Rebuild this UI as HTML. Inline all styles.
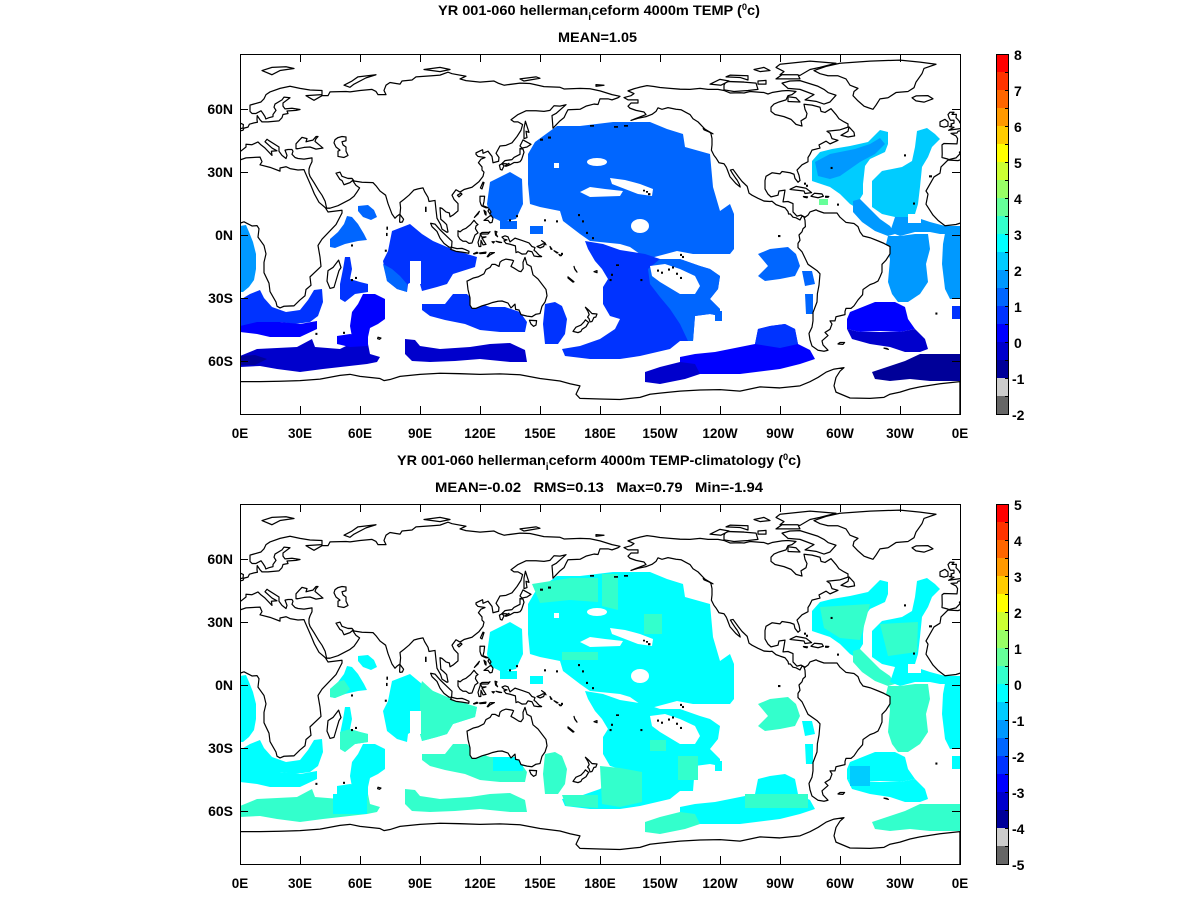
<!DOCTYPE html>
<html><head><meta charset="utf-8"><style>
html,body{margin:0;padding:0;background:#fff;}
svg{display:block;}
text{font-family:"Liberation Sans",Arial,sans-serif;font-weight:bold;fill:#000;}
</style></head><body>
<svg xmlns="http://www.w3.org/2000/svg" width="1200" height="900" viewBox="0 0 1200 900">
<defs>
<clipPath id="ct"><rect x="240" y="54" width="720" height="360"/></clipPath>
<clipPath id="cb"><rect x="240" y="504" width="720" height="360"/></clipPath>

<polygon id="r_ang_l" points="0,172 6,171 9,178 13,188 16,200 16,215 14,226 9,233 3,238 0,238"/>
<polygon id="r_ang_r" points="720,172 706,174 703,190 702,210 705,235 710,245 720,245"/>
<polygon id="r_swind" points="0,246 10,240 20,236 24,244 32,253 46,258 60,256 68,246 74,236 82,235 83,248 78,262 70,268 55,270 40,268 28,271 12,272 0,272"/>
<polygon id="r_band1" points="0,272 17,268 40,268 60,270 77,267 77,275 60,283 30,283 17,280 0,278"/>
<polygon id="r_ant1" points="0,302 17,295 57,293 72,285 75,293 100,295 110,290 128,290 130,300 140,303 137,308 127,310 83,315 60,318 37,315 20,312 0,313"/>
<polygon id="r_ant1d" points="0,302 15,301 27,305 15,311 0,311"/>
<polygon id="r_arab" points="118,152 128,151 134,156 137,163 131,166 123,163 118,157"/>
<polygon id="r_somali" points="107,162 112,163 118,170 124,180 127,186 118,187 105,190 95,194 90,193 90,185 98,178 104,170"/>
<polygon id="r_masc" points="105,203 110,203 112,215 110,225 120,228 128,230 128,238 115,240 105,248 100,245 100,230 103,215"/>
<polygon id="r_cind" points="152,177 170,170 182,180 193,187 207,193 227,200 237,203 235,213 213,220 207,230 197,233 182,237 180,230 173,227 168,230 167,238 157,235 147,227 143,207 148,197"/>
<polygon id="r_cind_w" points="143,210 152,215 160,222 167,230 167,238 157,235 147,227"/>
<polygon id="r_saus" points="182,250 205,250 213,240 227,240 235,248 250,253 265,253 280,258 287,268 285,278 260,278 240,276 225,270 205,266 190,262 182,256"/>
<polygon id="r_crozet" points="123,240 135,240 145,245 145,265 138,270 130,274 128,283 112,283 110,272 112,258 118,250"/>
<polygon id="r_crozet2" points="97,282 110,280 128,283 128,292 110,293 97,290"/>
<polygon id="r_ausant" points="165,285 175,286 180,292 200,295 230,293 250,290 270,289 285,296 287,308 270,308 240,305 215,307 190,308 172,307 165,300"/>
<polygon id="r_phil" points="250,128 270,118 282,125 283,150 276,165 262,168 250,162 247,150"/>
<polygon id="r_npac" points="288,100 295,88 317,72 340,72 373,68 410,68 427,75 443,80 445,93 470,100 473,133 480,157 490,150 494,160 494,195 490,200 453,200 437,197 407,205 390,193 380,190 350,187 340,180 323,167 320,157 300,153 290,150 288,130"/>
<polygon id="r_nps1" points="260,167 277,167 277,175 260,175"/>
<polygon id="r_nps2" points="290,172 303,172 303,180 290,180"/>
<polygon id="r_spac" points="345,187 363,190 380,196 405,200 420,205 440,205 460,212 470,215 480,222 478,235 470,245 480,255 480,262 470,260 455,262 453,287 440,287 430,295 400,302 380,305 350,305 325,302 322,295 340,292 360,285 375,275 380,265 370,262 363,250 363,233 368,225 362,215 355,207 348,195"/>
<polygon id="r_spac_e" points="420,205 440,205 460,212 470,215 480,222 478,235 470,245 480,255 480,262 470,260 455,262 453,287 448,287 440,270 430,255 420,243 410,230 408,215"/>
<polygon id="r_tasman" points="305,250 315,248 322,252 327,265 325,280 318,290 305,290 303,270"/>
<polygon id="r_pant" points="440,303 455,300 475,298 490,295 500,293 515,290 518,275 530,272 545,270 555,275 558,290 570,296 575,305 560,310 540,315 500,320 470,320 450,320 440,315"/>
<polygon id="r_pant_b" points="515,290 518,275 530,272 545,270 555,275 558,290 540,294"/>
<polygon id="r_pant_d" points="405,318 420,313 440,308 455,310 460,320 445,325 420,330 405,328"/>
<polygon id="r_peru" points="518,200 530,195 548,193 556,200 560,212 555,222 540,225 525,227 518,222 528,212"/>
<polygon id="r_peru2" points="562,217 572,217 575,230 565,232"/>
<polygon id="r_peru3" points="565,240 573,240 573,260 566,260"/>
<polygon id="r_ep1" points="475,257 482,257 482,267 475,267"/>
<polygon id="r_natl_w" points="572,107 580,98 592,95 610,92 628,88 636,80 640,76 648,78 648,90 645,98 630,105 625,112 623,130 623,140 615,153 610,150 600,140 590,133 572,127"/>
<polygon id="r_natl_wi" points="575,108 590,100 615,95 630,90 640,84 645,90 635,100 620,108 610,115 600,122 590,125 578,122"/>
<polygon id="r_natl_e" points="677,77 687,74 695,80 700,85 692,93 688,103 682,113 680,133 678,150 675,160 665,165 655,163 642,160 632,153 632,127 642,117 662,113 672,107 675,93"/>
<polygon id="r_sa1" points="613,147 620,145 630,155 640,165 650,172 655,180 648,182 635,177 622,168 613,158"/>
<polygon id="r_samid" points="655,163 675,163 690,168 705,172 720,172 720,180 700,180 690,178 675,178 660,182 650,178"/>
<polygon id="r_brazil" points="648,182 660,182 675,180 688,180 690,195 686,210 688,228 680,240 668,248 658,248 652,240 648,228 650,205 646,190"/>
<polygon id="r_se1" points="712,252 720,252 720,265 712,265"/>
<polygon id="r_arg" points="610,258 625,252 635,248 655,248 665,253 668,265 675,275 660,278 640,277 620,278 607,275 607,265"/>
<polygon id="r_arg_d" points="607,275 620,278 660,278 675,275 685,285 688,295 680,298 665,298 650,293 630,290 612,285"/>
<polygon id="r_wed" points="632,318 650,312 665,307 680,300 700,300 720,300 720,327 690,327 670,325 650,327 635,325"/>
<g id="holes" fill="#fff">
<rect x="170" y="207" width="11" height="23"/>
<ellipse cx="357" cy="108" rx="10" ry="4"/>
<polygon points="370,124 385,126 400,130 413,135 412,142 398,140 385,135 372,130"/>
<polygon points="340,138 350,133 365,135 383,137 380,142 350,143"/>
<ellipse cx="400" cy="172" rx="9" ry="7"/>
<rect x="314" y="109" width="5" height="5"/>
<polygon points="410,212 425,210 440,215 455,222 460,232 455,240 440,240 430,234 420,228 412,222"/>
<rect x="668" y="160" width="13" height="9"/>
</g>

<g id="land" fill="#fff" stroke="#000" stroke-width="0.6" stroke-linejoin="round">
<polygon points="-6,-35.8 -1,-35.5 3,-36.8 10,-37.2 11,-35 10,-33.5 15,-32.3 20,-30.5 20,-32 23,-32.6 25,-31.7 29,-31 32,-31.2 32.5,-30 33.8,-27.2 35.5,-23.5 37.2,-19.6 39.5,-15.6 42.7,-13 44,-11 51,-11.8 51,-10.5 48,-5 45,-2 41,2 39,5 40,10.5 40.5,15 35,20 35.5,24 33,26 32.5,29 30,31 27,33.8 22,34 20,34.8 18.5,34 18,32 15,27 14.5,23 12,18 12,13 13,9 12,5 9,1 9.5,-3 8.5,-4.5 6,-4.3 2,-6.3 -2,-5 -7.5,-4.4 -11,-7 -13.5,-9.5 -17,-14.7 -16,-19.5 -17,-21 -13,-27.7 -10,-29.5 -9.5,-32.5 -6,-35.8"/>
<polygon points="49.3,12 50.5,15.5 49.5,17 47,25 45,25.5 43.5,22 44,17 46.5,15.5"/>
<polygon points="-9,-43 -8.9,-38.7 -9,-37 -6,-36.2 -5.6,-36 -2,-36.8 0,-38.8 -0.3,-39.5 3,-42 3,-43.3 6,-43.1 9,-44.4 10.5,-43 12.5,-41.5 16,-38 15.7,-40 18.5,-40.2 16,-41.5 12.5,-44.5 13.5,-45.7 14.5,-45 19.5,-42 19.5,-40 21,-38 23,-36.5 23.5,-38 22.5,-40.5 24,-40.8 26,-40.8 26.5,-40 26,-38.5 27.5,-37 29,-36.5 32,-36.2 36,-36.8 36,-35 35,-33 34.5,-31.5 34.5,-29.5 35,-28 37,-25 39.2,-21.5 41,-19 42.6,-16 43.3,-12.8 45,-12.8 49,-14 52,-15.5 55,-17 57,-18.5 58.5,-20.5 59.8,-22.5 58,-23.7 56.3,-26 55,-25 52,-24 51,-26 50,-26.5 48,-29.5 50,-30 51,-28 54,-27 56,-27 57,-25.8 61,-25.2 66.5,-25 68,-23.5 70,-21 72.8,-19 74,-15 76,-10 77.5,-8 78.5,-9 80,-10 80.3,-13 80,-15.5 82,-17 84.5,-19 87,-21.5 89,-22 91.5,-22.5 92.3,-20.7 94,-18 94.5,-16 97.5,-16.5 98,-12 98.5,-8 100.3,-5 101,-2.8 103.5,-1.3 104,-1.5 103.3,-5 102,-6.2 100.4,-7.5 100,-13 101,-12.7 103,-11 104.7,-10.5 105,-8.7 106.5,-9.5 109,-11.5 109,-15 107,-17 106,-19 108,-21.6 110,-20.5 112,-21.7 116,-22.8 119.5,-25.5 121.5,-28 122,-30 121,-31 121,-32.5 119.2,-34.5 120.5,-36.2 122.5,-37 119,-37.5 118,-38.5 118,-39.2 121.3,-40.7 121.5,-39 124,-40 126,-37.5 126.5,-34.5 129.3,-35.2 129.5,-37 128,-39 130,-42.5 133,-42.8 136,-44 138.5,-47 140.5,-50 141.3,-52.7 139,-54 137,-54 135.5,-55 139,-57.5 143,-59.3 148,-59.3 152,-59 155,-59.5 157,-61.7 160,-61.5 163,-62.2 158,-58 156,-57 156.5,-51 158.5,-53 160,-54.5 162,-56 163,-58 164,-59.8 170,-60 173,-61.5 177,-62.5 179,-62.3 180,-65 184,-65 186,-64.5 189,-65.5 190,-66.2 186,-67 180,-68.8 175,-69.8 170,-70 162,-69.7 160,-70.5 152,-70.8 145,-72.3 140,-72.5 132,-71.5 129,-72.5 127,-73.5 120,-73 113,-73.7 110,-74.5 113,-75.8 106,-77 104,-77.7 100,-76.3 96,-76 88,-75.5 86,-74 81,-73.5 80,-72 78,-72.3 75,-72.8 73,-71.5 72,-69 73,-67 69,-67 68,-68.5 66,-69.5 60,-69 55,-68.3 53,-68.5 45,-68.3 44,-66.5 41,-66.5 37,-64.3 34.8,-65.5 33,-66.5 41,-67 41,-69 35,-69.2 30,-70 25,-71 20,-70 15,-68.3 13,-67 12,-65 10.5,-63.5 5,-62 5,-59 6,-58 8,-58 10.5,-59.3 11.5,-58 12.5,-56.5 12.9,-55.4 14.5,-56 16.5,-56.5 16.5,-57.5 18,-59.5 17,-61 17.5,-62.5 21,-64.5 22,-65.8 25,-65.5 21.5,-63 21.5,-61.5 22.5,-60.2 26,-60.5 30,-59.9 28,-59.5 23.5,-59.2 24,-58 21.5,-57.5 21,-56 19.5,-54.5 14,-54 11,-54 10,-55 8.6,-57 8.5,-55 8.7,-53.8 7,-53.5 4.7,-52.9 4,-51.5 2,-51 1.5,-50 -1,-49.5 -1.5,-48.7 -4.5,-48.5 -2,-47.3 -1.2,-46 -1.5,-43.5 -8,-43.7"/>
<polygon points="28,-41.2 28,-43.5 29.7,-45.3 31,-46.6 33.5,-46 33,-44.5 35,-45 36.5,-45.3 38,-47 39,-47 38,-46 37.5,-44.7 41.5,-41.5 38,-41 35,-42 32,-41.8 29,-41.2"/>
<polygon points="49,-46.5 51,-47 53,-46.8 53,-45 51,-44.5 51.5,-43 53,-42 53,-40 54,-38 52,-37 49,-37.5 49,-40 50,-40.5 48,-42 47,-44 47.5,-45.5"/>
<polygon points="-5.7,-50 1.5,-51 1.7,-52.7 0,-53.5 -0.5,-54.5 -1.5,-55.5 -2,-56 -1.8,-57.6 -4,-57.6 -3,-58.6 -5,-58.6 -6,-57.5 -5.5,-56 -4.8,-54.8 -3,-54.8 -3,-53.4 -4.5,-53 -4.2,-52.2 -5.2,-51.7 -3,-51.4"/>
<polygon points="-6,-52 -6,-54 -7.5,-55.2 -10,-54 -10,-52 -8,-51.5"/>
<polygon points="-22,-64 -24,-65.5 -22,-66.4 -16,-66.5 -13.5,-65 -18,-63.4"/>
<polygon points="11,-78.5 16,-80 23,-80.3 27,-79.5 20,-78.5 16,-76.5"/>
<polygon points="52,-71.5 56,-73.5 59,-75.5 68,-76.5 63,-75 57,-72 55,-70.5"/>
<polygon points="92,-79 100,-80 105,-79 100,-78"/>
<polygon points="140,-74.5 148,-75.5 150,-74.8 142,-73.5"/>
<polygon points="178,-71 182,-71.5 178,-71.8"/>
<polygon points="130.9,-34 132.5,-35.5 136,-36 137,-37 140,-38.5 140,-41.3 141.5,-41 142,-39.5 140.8,-36 140,-35 138.7,-34.6 137,-34.6 135,-33.5 133,-34"/>
<polygon points="129.7,-33.3 131,-34 132,-33 131,-31 130.2,-31.3"/>
<polygon points="132.5,-33 134.5,-34.2 134.5,-33.3 133,-32.8"/>
<polygon points="140,-42.5 141.5,-45.4 145.5,-43.3 143.5,-42 141,-41.5"/>
<polygon points="142,-46 143.5,-46.5 143,-49.5 144.5,-49 142.7,-54.3 142,-51"/>
<polygon points="120.2,-22.5 121.5,-25.2 122,-25 121,-22"/>
<polygon points="108.7,-19 110.5,-20 111,-19.5 109.5,-18.2"/>
<polygon points="120,-18.5 122.3,-18.5 122,-16 121.5,-14 124,-13 123,-13 121,-13.8 120.5,-14.5 120,-16"/>
<polygon points="122,-7 125.5,-9.5 126.5,-8 126,-6 125,-5.8 124,-7"/>
<polygon points="124.5,-12.5 125.5,-11 125,-10 124,-11.5"/>
<polygon points="122,-11.8 123,-11 123,-9.5 122.5,-10"/>
<polygon points="117.2,-8.4 119.7,-11.3 119,-10"/>
<polygon points="109,-2 110,-1.5 111.5,-2.6 113,-3.2 115.3,-5 117,-7 118.3,-5.5 119,-5 118,-4.3 117.7,-3 119,-1 117.5,0 116.5,2.5 116,3.8 114.5,4 113,3 111.5,3 110,2 109,0.5"/>
<polygon points="95.3,-5.6 97.5,-5.2 100.3,-2.2 103.8,1 106,3 105.8,5.9 104.5,5.8 102,4 100,1.5 98.5,-1.7 96,-4"/>
<polygon points="105.2,6.8 106,5.9 108.5,6.5 111,6.4 112.5,6.9 114.5,7.8 114.4,8.7 111,8.2 108,7.8"/>
<polygon points="116.8,8.9 118.5,8.2 119,8.6 117,9.1"/>
<polygon points="119.8,8.6 123,8.2 122.8,8.7 120,8.9"/>
<polygon points="123.6,10.3 125,8.5 127.2,8.4 125,9.5 124,10.4"/>
<polygon points="119.5,5.5 120.4,5.5 120.5,2.5 121.5,4.7 123,4.5 122,3 121,1.5 123,0.9 121,1 120,-0.5 121,-1.2 124.5,-1.3 125,-1.6 124,-0.5 120.5,-0.5 120,0.5 119,3.5"/>
<polygon points="127.5,-1.8 128.5,-1.5 128,-0.5 128.8,0.8 127.8,0"/>
<polygon points="128,3 130.8,3.6 129.5,3.5"/>
<polygon points="126,3.2 127.2,3.2 126.7,3.8"/>
<polygon points="131,1 132.5,0.4 134,0.9 135,3.3 137.5,1.5 141,2.6 144.5,3.8 146,5.5 147.5,6 147,7.3 148,8 149.5,9.6 150.8,10.3 149,10.3 147,10 146,8 144,7.6 143,9 141,9.1 139,8 138,8.4 137.7,5.2 135,4.4 133,4 132,2.8 133.5,2.3 132,2"/>
<polygon points="148.5,5.5 150,5 151.5,4.2 152.3,4.3 151.8,5.5 150,6.2"/>
<polygon points="150.8,2.7 152.5,3.8 153,4.7 152,3.5"/>
<polygon points="155,5.5 156,6.8 155.5,6.8"/>
<polygon points="157,7.5 159,8.5 158.5,8.6"/>
<polygon points="159.5,9.3 160.8,9.8 160,9.9"/>
<polygon points="167,15 167.5,16.5 168.5,17.7 167.3,16"/>
<polygon points="164,20 167,22.3 166.5,22.5 164,20.5"/>
<polygon points="177,17.5 178.5,18 178.5,17"/>
<polygon points="113.5,22 114,26 115,30 115,33.5 116,35 118,35 121,33.8 124,33 126,32.3 129,31.6 131,31.5 134,32.5 135.5,34.8 137.5,33 137.8,35.5 139.5,35.8 140.5,38 143.5,38.7 146,39 148,37.8 150,37.5 151,34 152.5,32 153.5,29 153,26 151,23.5 149,21 146.5,19 145.5,15 143.5,14 142.5,10.7 141.5,13 141.6,16 140.5,17.5 139.5,17.3 137,15.8 135.5,15 136.8,12.3 136,12 133,11.5 131,12.2 130,13 129.5,15 127.5,14 126,14 125,15.5 123,16.5 122,18.5 119,20 116.5,20.6 114,21.8"/>
<polygon points="144.7,40.7 148.3,40.9 148,43 146.8,43.6 145.5,42.5"/>
<polygon points="172.7,34.5 174.5,36 176,37.5 178.5,37.7 177.9,39.2 177,39.3 176,41.3 175,41.5 174.5,39.9 173.8,39.2 174.6,38 174,36.5"/>
<polygon points="172.7,40.5 174.3,41.7 173,43.8 171,45 170.5,46 169,46.6 166.5,46 168,44 170.5,43 172,41.5"/>
<polygon points="79.8,-6.5 80,-9.8 81.8,-7.5 81.2,-6.2 80,-6"/>
<polygon points="0,70 10,70 20,69.8 30,69.5 40,68.8 50,67 55,66.5 60,67.5 70,68.5 72,69.5 75,69 80,67.5 90,66.5 100,66 110,66.2 120,66.5 130,66.3 140,66.7 150,68.5 160,69.7 165,71 170,72 168,76 170,78 180,78.3 190,78.5 200,77.5 205,76 210,75.5 220,74.5 230,74 240,73.8 250,74.5 255,73.5 260,72.5 270,73 280,72 285,70 289,68 293,65.5 297,64 302,63.3 300,65 298,68 297,72 298,75 305,77.8 315,78 322,77.5 325,76 330,75 335,73.5 340,72.5 350,71 360,70 360,95 0,95"/>
<polygon points="-77.5,-8.5 -76,-9.5 -75,-11 -72,-12 -71,-11.5 -68,-10.5 -64,-10.5 -61.5,-10.5 -60,-8.5 -57,-6 -53,-5.5 -51,-4 -50,-1.5 -48.5,0.5 -45,1.3 -41,2.8 -38,4 -35,5.5 -35,9 -37,12 -39,14 -39,17.7 -40,20 -41,22 -43,23 -45,23.7 -48.5,26 -48.7,28.5 -51,31 -53,33.8 -54.5,35 -57,35 -57.5,36.5 -57.5,38 -62,39 -62.5,41 -65,41 -64,42.5 -65,45 -67.5,46.5 -66,48 -69,50.5 -68.5,52.5 -66,55 -68,55.5 -71,55 -74,53 -75,50 -75.5,47 -74,44 -73.5,41 -73.5,37 -71.5,32 -71.3,28 -70.5,24 -70,18.5 -71.5,17 -76,14 -77,12 -79,8 -81,6 -81,4 -80,2.5 -80.5,0 -79,-1.5 -78.5,-3 -77.3,-4 -77.5,-7 -78,-8.5"/>
<polygon points="-77.5,-8.5 -79.5,-9.5 -81.5,-9 -83.5,-11 -83.5,-15 -86,-16 -88.5,-15.8 -88,-18.5 -87.5,-21.4 -90.5,-21 -91,-19 -94.5,-18.2 -96,-19.5 -97.5,-22 -97.5,-26 -97,-28 -94,-29.7 -90,-29.2 -89,-30.3 -85,-29.7 -83,-29 -82.5,-27 -81,-25.2 -80,-26 -80.5,-28.5 -81.5,-31 -79,-33.5 -76,-35 -76,-37 -75,-38.5 -74,-40.5 -70,-41.5 -70.5,-43 -67,-44.8 -65,-43.5 -61,-45.2 -64,-46 -65,-48.5 -66.5,-49.5 -60,-50.2 -56,-51.5 -56,-53 -58,-54 -60.5,-55.5 -62,-57.5 -64.5,-60.3 -67.5,-58.5 -69.5,-59 -70,-61 -74,-62 -78,-62.4 -77.5,-60 -76.5,-58 -77,-56 -79.5,-54.5 -79,-52 -82,-52.8 -84.5,-55.2 -88,-56.5 -92.5,-57.5 -94.5,-59 -94.5,-61 -93,-62.5 -90.5,-63.5 -87,-64.5 -86,-66.5 -84,-67 -82,-68.5 -86,-69 -89,-68.8 -94,-68 -96,-67.3 -98,-68 -105,-68.5 -108,-67.8 -110,-67.9 -115,-67.8 -118,-69 -121,-69.5 -126,-69.5 -130,-70 -135,-69.5 -140,-69.6 -145,-70 -150,-70.4 -153,-70.9 -156.5,-71.3 -160,-70.6 -163,-69.8 -166,-68.8 -163,-67.5 -164.5,-66.5 -168,-65.6 -166,-64.5 -161,-64.5 -161,-63 -164.5,-63 -166,-61.5 -165,-60.5 -162,-59.5 -158,-58.7 -157,-57.5 -161,-56 -164.5,-54.7 -161,-55.7 -157,-56.5 -154,-57.6 -152,-59 -151,-60.7 -149,-60 -146,-60.8 -142,-60 -139.5,-59.8 -137,-58.5 -135,-57.5 -133.5,-55.5 -131,-54 -129,-52 -127.5,-50.5 -125,-49 -124.5,-48.3 -124,-46 -124,-43 -124.3,-40.5 -123,-38 -121.8,-36.5 -120.5,-34.5 -118,-34 -117,-32.6 -116.6,-31.8 -115,-27.8 -112,-24.5 -109.9,-22.9 -110.3,-24.2 -111.3,-26 -112.3,-27.3 -113.5,-29 -114.8,-31 -113.5,-31.3 -110.9,-27.9 -109,-25.6 -106.4,-23.2 -105.5,-20 -104,-19 -101,-17.5 -98,-16.2 -95,-16 -94,-16.1 -92,-14.5 -90,-13.8 -87.5,-13 -86,-11.2 -85.7,-10 -84.8,-10 -83.5,-8.5 -82,-8.2 -80,-7.2 -79,-9"/>
<polygon points="-73,-78.5 -67,-80.5 -60,-82 -45,-83 -30,-83.5 -20,-82.5 -12,-81.5 -18,-79.5 -19,-77 -22,-73 -23,-70.3 -26,-68.5 -32,-68 -36,-65.5 -40,-65 -42,-62 -43.5,-60 -46,-60.8 -48,-61.5 -51,-64 -53.5,-66.5 -53,-68.5 -51,-70 -55,-71.5 -57,-74.5 -61,-76 -66,-76 -70,-77"/>
<polygon points="-62,-66.7 -65,-63.5 -68,-62.5 -72,-63.8 -77.5,-64.5 -73,-67 -80,-69.5 -86,-70 -89,-72.5 -85,-73.5 -80,-73.7 -76,-72.5 -71,-71 -68,-69.5 -66,-68"/>
<polygon points="-118,-71.5 -117,-73.3 -108,-73 -102,-72.5 -101,-69.5 -106,-69 -113,-68.5 -118,-69.3"/>
<polygon points="-125,-72 -120,-74.3 -115.5,-73.5 -119.5,-71.5"/>
<polygon points="-90,-76.5 -80,-76.2 -75,-79 -70,-80 -62,-82 -75,-83 -90,-81.5 -92,-80 -88,-78"/>
<polygon points="-92,-74.5 -80,-74.5 -81,-76.5 -89,-76.5"/>
<polygon points="-86,-63.7 -80,-63.5 -82,-65.5 -86,-66"/>
<polygon points="-106,-74 -110,-75.2 -117,-75.5 -115,-76.3 -106,-76"/>
<polygon points="-101,-72 -97,-72 -97,-73.8 -101,-73.5"/>
<polygon points="-100,-78 -95,-78.5 -98,-80 -103,-79"/>
<polygon points="-59.5,-47.6 -56,-49.5 -55.5,-51.6 -53,-49 -52.7,-47.3 -56,-46.8"/>
<polygon points="-85,-21.8 -82,-23.2 -77,-22.3 -74.2,-20.2 -77.5,-19.8 -78,-21 -82.5,-21.5"/>
<polygon points="-74.5,-18.5 -72.8,-19.9 -69,-19.6 -68.3,-18.5 -71,-17.8"/>
<polygon points="-78.3,-18.4 -76.2,-18.2 -76.5,-17.8 -78,-18.1"/>
<polygon points="-67.2,-18.5 -65.6,-18.4 -66,-18 -67.2,-18"/>
<polygon points="-128.4,-50.8 -123.5,-48.3 -125,-49 -128,-50.2"/>
<polygon points="-60,51.3 -57.7,51.3 -58.5,52.2 -61,52"/>
<polygon points="-38,54 -35.8,54.6 -36.5,54.2"/>
<polygon points="69,48.8 70.5,49.2 69.8,49.8 68.8,49.5"/>
</g>
<g id="dots" fill="#000">
<rect x="204" y="-20" width="1.2" height="1"/><rect x="203" y="-21" width="1" height="0.8"/><rect x="201.5" y="-21.6" width="1" height="0.8"/>
<rect x="171" y="-7" width="1" height="1"/><rect x="169" y="-10" width="1" height="1"/><rect x="173" y="-1.5" width="1" height="1"/><rect x="176" y="1" width="1" height="1"/>
<rect x="158" y="-7" width="1" height="1"/><rect x="152" y="-7.5" width="1" height="1"/><rect x="138" y="-9.5" width="1" height="1"/><rect x="134.5" y="-7.5" width="1" height="1"/>
<rect x="188" y="14" width="1.5" height="0.8"/><rect x="184.8" y="21" width="1" height="1"/><rect x="185.5" y="18.5" width="1" height="1"/>
<rect x="200.2" y="21" width="1" height="1"/><rect x="210.5" y="17.5" width="1" height="1"/><rect x="208.5" y="16.5" width="1" height="1"/>
<rect x="214" y="16" width="1" height="1"/><rect x="218" y="18" width="1" height="1"/><rect x="220" y="20" width="1" height="1"/><rect x="216" y="15" width="1" height="1"/>
<rect x="220" y="9" width="1" height="1"/><rect x="221" y="10" width="1" height="1"/>
<rect x="269" y="0" width="1.2" height="1"/>
<rect x="57.5" y="20" width="1" height="1"/><rect x="55.5" y="21" width="1" height="1"/><rect x="55.5" y="4.5" width="1" height="1"/>
<rect x="73.2" y="-4" width="0.8" height="1.5"/><rect x="73" y="-1" width="0.8" height="1.5"/><rect x="72.4" y="7" width="1" height="1"/>
<rect x="51.5" y="46.2" width="1" height="1"/><rect x="37.7" y="46.7" width="1" height="1"/>
<rect x="344.5" y="-28.5" width="1.5" height="1"/><rect x="336.5" y="-15.5" width="1" height="1"/><rect x="332" y="-38.5" width="1" height="1"/>
<rect x="295.3" y="-32.5" width="1" height="1"/><rect x="282" y="-25" width="1" height="1"/><rect x="283" y="-24" width="1" height="1"/>
<rect x="298.5" y="-15" width="1" height="1"/><rect x="347.7" y="37" width="1" height="1"/>
<rect x="92.5" y="-13.5" width="0.8" height="2.5"/><rect x="160.5" y="8.5" width="1" height="1"/>
<rect x="154" y="-47" width="1.5" height="1"/><rect x="150" y="-46" width="1.5" height="1"/><rect x="187" y="-52" width="2" height="0.8"/><rect x="192" y="-52.5" width="2" height="0.8"/><rect x="175" y="-52.5" width="2" height="0.8"/>
</g>
</defs>

<!-- TOP PANEL -->
<g clip-path="url(#ct)">
<g transform="translate(240,54)">
<use href="#r_ang_l" fill="#0099ff"/>
<use href="#r_ang_r" fill="#0099ff"/>
<use href="#r_swind" fill="#0033ff"/>
<use href="#r_band1" fill="#0000ff"/>
<use href="#r_ant1" fill="#0000cc"/>
<use href="#r_ant1d" fill="#000099"/>
<use href="#r_arab" fill="#0066ff"/>
<use href="#r_somali" fill="#0066ff"/>
<use href="#r_masc" fill="#0033ff"/>
<use href="#r_cind" fill="#0033ff"/>
<use href="#r_cind_w" fill="#0066ff"/>
<use href="#r_saus" fill="#0033ff"/>
<use href="#r_crozet" fill="#0000ff"/>
<use href="#r_crozet2" fill="#0000ff"/>
<use href="#r_ausant" fill="#0000cc"/>
<use href="#r_phil" fill="#0066ff"/>
<use href="#r_npac" fill="#0066ff"/>
<use href="#r_nps1" fill="#0066ff"/>
<use href="#r_nps2" fill="#0066ff"/>
<use href="#r_spac" fill="#0033ff"/>
<use href="#r_spac_e" fill="#0066ff"/>
<use href="#r_tasman" fill="#0033ff"/>
<use href="#r_pant" fill="#0000ff"/>
<use href="#r_pant_b" fill="#0033ff"/>
<use href="#r_pant_d" fill="#0000cc"/>
<use href="#r_peru" fill="#0066ff"/>
<use href="#r_peru2" fill="#0066ff"/>
<use href="#r_peru3" fill="#0066ff"/>
<use href="#r_ep1" fill="#0066ff"/>
<use href="#r_natl_w" fill="#00ccff"/>
<use href="#r_natl_wi" fill="#0099ff"/>
<use href="#r_natl_e" fill="#00ccff"/>
<use href="#r_sa1" fill="#0099ff"/>
<use href="#r_samid" fill="#0099ff"/>
<use href="#r_brazil" fill="#0099ff"/>
<use href="#r_se1" fill="#0033ff"/>
<use href="#r_arg" fill="#0000ff"/>
<use href="#r_arg_d" fill="#0000cc"/>
<use href="#r_wed" fill="#000099"/>
<rect x="579" y="145" width="9" height="6" fill="#66ff99"/>
<use href="#holes"/>
</g>
<g transform="translate(240,235) scale(2,2.095)">
<use href="#land"/><use href="#land" transform="translate(360,0)"/>
<use href="#dots"/><use href="#dots" transform="translate(360,0)"/>
</g>
</g>

<!-- BOTTOM PANEL -->
<g clip-path="url(#cb)">
<g transform="translate(240,504)" fill="#00ffff">
<use href="#r_ang_l"/><use href="#r_ang_r"/><use href="#r_swind"/><use href="#r_band1"/>
<use href="#r_ant1" fill="#33ffcc"/><use href="#r_ant1d" fill="#33ffcc"/>
<rect x="93" y="290" width="34" height="20" fill="#00ffff"/>
<use href="#r_arab"/><use href="#r_somali"/><use href="#r_masc"/><use href="#r_cind"/>
<use href="#r_saus" fill="#33ffcc"/>
<rect x="253" y="253" width="30" height="14" fill="#00ffff"/>
<use href="#r_crozet"/><use href="#r_crozet2"/>
<use href="#r_ausant" fill="#33ffcc"/>
<use href="#r_phil"/><use href="#r_npac"/><use href="#r_nps1"/><use href="#r_nps2"/>
<use href="#r_spac"/><use href="#r_tasman" fill="#33ffcc"/>
<use href="#r_pant"/><use href="#r_pant_d" fill="#33ffcc"/>
<use href="#r_peru" fill="#33ffcc"/><use href="#r_peru2"/><use href="#r_peru3"/><use href="#r_ep1"/>
<use href="#r_natl_w"/><use href="#r_natl_e"/>
<use href="#r_sa1" fill="#33ffcc"/><use href="#r_samid"/><use href="#r_brazil" fill="#33ffcc"/><use href="#r_se1"/>
<use href="#r_arg"/><use href="#r_arg_d"/><use href="#r_wed" fill="#33ffcc"/>
<g fill="#33ffcc">
<polygon points="90,185 98,178 104,176 110,185 105,190 95,194 90,193"/>
<polygon points="100,228 110,225 120,228 128,230 128,238 115,240 105,248 100,245"/>
<polygon points="182,177 193,187 207,193 227,200 237,203 235,213 213,220 207,230 197,233 182,237 180,230 180,185"/>
<polygon points="292,80 330,74 358,74 358,98 330,96 300,99"/>
<polygon points="362,70 378,70 378,106 362,102"/>
<polygon points="404,110 422,110 422,130 404,130"/>
<polygon points="322,148 358,148 358,156 322,156"/>
<polygon points="360,262 380,264 402,268 402,298 380,303 362,300"/>
<polygon points="322,291 358,291 358,304 326,302"/>
<polygon points="438,252 458,252 458,276 438,276"/>
<polygon points="410,236 426,236 426,247 410,247"/>
<polygon points="505,290 568,290 568,304 505,304"/>
<polygon points="580,103 630,100 626,115 620,136 600,134 584,124"/>
<polygon points="640,120 678,118 677,148 648,152"/>
</g>
<rect x="610" y="262" width="20" height="20" fill="#00ccff"/>
<use href="#holes"/>
</g>
<g transform="translate(240,685) scale(2,2.095)">
<use href="#land"/><use href="#land" transform="translate(360,0)"/>
<use href="#dots"/><use href="#dots" transform="translate(360,0)"/>
</g>
</g>

<!-- frames and ticks -->
<g fill="none" stroke="#000" stroke-width="1">
<rect x="240.5" y="54.5" width="720" height="360"/>
<rect x="240.5" y="504.5" width="720" height="360"/>
<path d="M300.5,54v8M360.5,54v8M420.5,54v8M480.5,54v8M540.5,54v8M600.5,54v8M660.5,54v8M720.5,54v8M780.5,54v8M840.5,54v8M900.5,54v8
M300.5,414v-8M360.5,414v-8M420.5,414v-8M480.5,414v-8M540.5,414v-8M600.5,414v-8M660.5,414v-8M720.5,414v-8M780.5,414v-8M840.5,414v-8M900.5,414v-8
M240,109.5h8M240,172.5h8M240,235.5h8M240,298.5h8M240,361.5h8
M960,109.5h-8M960,172.5h-8M960,235.5h-8M960,298.5h-8M960,361.5h-8"/>
<path transform="translate(0,450)" d="M300.5,54v8M360.5,54v8M420.5,54v8M480.5,54v8M540.5,54v8M600.5,54v8M660.5,54v8M720.5,54v8M780.5,54v8M840.5,54v8M900.5,54v8
M300.5,414v-8M360.5,414v-8M420.5,414v-8M480.5,414v-8M540.5,414v-8M600.5,414v-8M660.5,414v-8M720.5,414v-8M780.5,414v-8M840.5,414v-8M900.5,414v-8
M240,109.5h8M240,172.5h8M240,235.5h8M240,298.5h8M240,361.5h8
M960,109.5h-8M960,172.5h-8M960,235.5h-8M960,298.5h-8M960,361.5h-8"/>
</g>

<!-- colorbars -->
<g id="cbar">
<rect x="996" y="54" width="13" height="18" fill="#ff0000"/>
<rect x="996" y="72" width="13" height="18" fill="#ff3300"/>
<rect x="996" y="90" width="13" height="18" fill="#ff6600"/>
<rect x="996" y="108" width="13" height="18" fill="#ff9900"/>
<rect x="996" y="126" width="13" height="18" fill="#ffcc00"/>
<rect x="996" y="144" width="13" height="18" fill="#ffff00"/>
<rect x="996" y="162" width="13" height="18" fill="#ccff33"/>
<rect x="996" y="180" width="13" height="18" fill="#99ff66"/>
<rect x="996" y="198" width="13" height="18" fill="#66ff99"/>
<rect x="996" y="216" width="13" height="18" fill="#33ffcc"/>
<rect x="996" y="234" width="13" height="18" fill="#00ffff"/>
<rect x="996" y="252" width="13" height="18" fill="#00ccff"/>
<rect x="996" y="270" width="13" height="18" fill="#0099ff"/>
<rect x="996" y="288" width="13" height="18" fill="#0066ff"/>
<rect x="996" y="306" width="13" height="18" fill="#0033ff"/>
<rect x="996" y="324" width="13" height="18" fill="#0000ff"/>
<rect x="996" y="342" width="13" height="18" fill="#0000cc"/>
<rect x="996" y="360" width="13" height="18" fill="#000099"/>
<rect x="996" y="378" width="13" height="18" fill="#cccccc"/>
<rect x="996" y="396" width="13" height="18" fill="#666666"/>
<rect x="996.5" y="54.5" width="12" height="360" fill="none" stroke="#000"/>
<path stroke="#000" fill="none" d="M1005,72.5h4M1005,90.5h4M1005,108.5h4M1005,126.5h4M1005,144.5h4M1005,162.5h4M1005,180.5h4M1005,198.5h4M1005,216.5h4M1005,234.5h4M1005,252.5h4M1005,270.5h4M1005,288.5h4M1005,306.5h4M1005,324.5h4M1005,342.5h4M1005,360.5h4M1005,378.5h4M1005,396.5h4"/>
</g>
<use href="#cbar" transform="translate(0,450)"/>

<!-- text -->
<g font-size="14">
<text x="438" y="15" textLength="322" lengthAdjust="spacingAndGlyphs">YR 001-060 hellerman<tspan dy="5" font-size="10">i</tspan><tspan dy="-5">ceform 4000m TEMP (</tspan><tspan dy="-5" font-size="9">0</tspan><tspan dy="5">c)</tspan></text>
<text x="558" y="42" textLength="79" lengthAdjust="spacingAndGlyphs">MEAN=1.05</text>
<text x="397" y="465" textLength="404" lengthAdjust="spacingAndGlyphs">YR 001-060 hellerman<tspan dy="5" font-size="10">i</tspan><tspan dy="-5">ceform 4000m TEMP-climatology (</tspan><tspan dy="-5" font-size="9">0</tspan><tspan dy="5">c)</tspan></text>
<text x="435" y="492" textLength="328" lengthAdjust="spacingAndGlyphs" style="white-space:pre">MEAN=-0.02   RMS=0.13   Max=0.79   Min=-1.94</text>
</g>
<g font-size="13.5" text-anchor="middle">
<text x="240" y="438">0E</text><text x="300" y="438">30E</text><text x="360" y="438">60E</text><text x="420" y="438">90E</text><text x="480" y="438">120E</text><text x="540" y="438">150E</text><text x="600" y="438">180E</text><text x="660" y="438">150W</text><text x="720" y="438">120W</text><text x="780" y="438">90W</text><text x="840" y="438">60W</text><text x="900" y="438">30W</text><text x="960" y="438">0E</text>
<text x="240" y="888">0E</text><text x="300" y="888">30E</text><text x="360" y="888">60E</text><text x="420" y="888">90E</text><text x="480" y="888">120E</text><text x="540" y="888">150E</text><text x="600" y="888">180E</text><text x="660" y="888">150W</text><text x="720" y="888">120W</text><text x="780" y="888">90W</text><text x="840" y="888">60W</text><text x="900" y="888">30W</text><text x="960" y="888">0E</text>
</g>
<g font-size="14" text-anchor="end">
<text x="233" y="114">60N</text><text x="233" y="177">30N</text><text x="233" y="240">0N</text><text x="233" y="303">30S</text><text x="233" y="366">60S</text>
<text x="233" y="564">60N</text><text x="233" y="627">30N</text><text x="233" y="690">0N</text><text x="233" y="753">30S</text><text x="233" y="816">60S</text>
</g>
<g font-size="14">
<text x="1014" y="60">8</text><text x="1014" y="96">7</text><text x="1014" y="132">6</text><text x="1014" y="168">5</text><text x="1014" y="204">4</text><text x="1014" y="240">3</text><text x="1014" y="276">2</text><text x="1014" y="312">1</text><text x="1014" y="348">0</text><text x="1012" y="384">-1</text><text x="1012" y="420">-2</text>
<text x="1014" y="510">5</text><text x="1014" y="546">4</text><text x="1014" y="582">3</text><text x="1014" y="618">2</text><text x="1014" y="654">1</text><text x="1014" y="690">0</text><text x="1012" y="726">-1</text><text x="1012" y="762">-2</text><text x="1012" y="798">-3</text><text x="1012" y="834">-4</text><text x="1012" y="870">-5</text>
</g>
</svg>
</body></html>
